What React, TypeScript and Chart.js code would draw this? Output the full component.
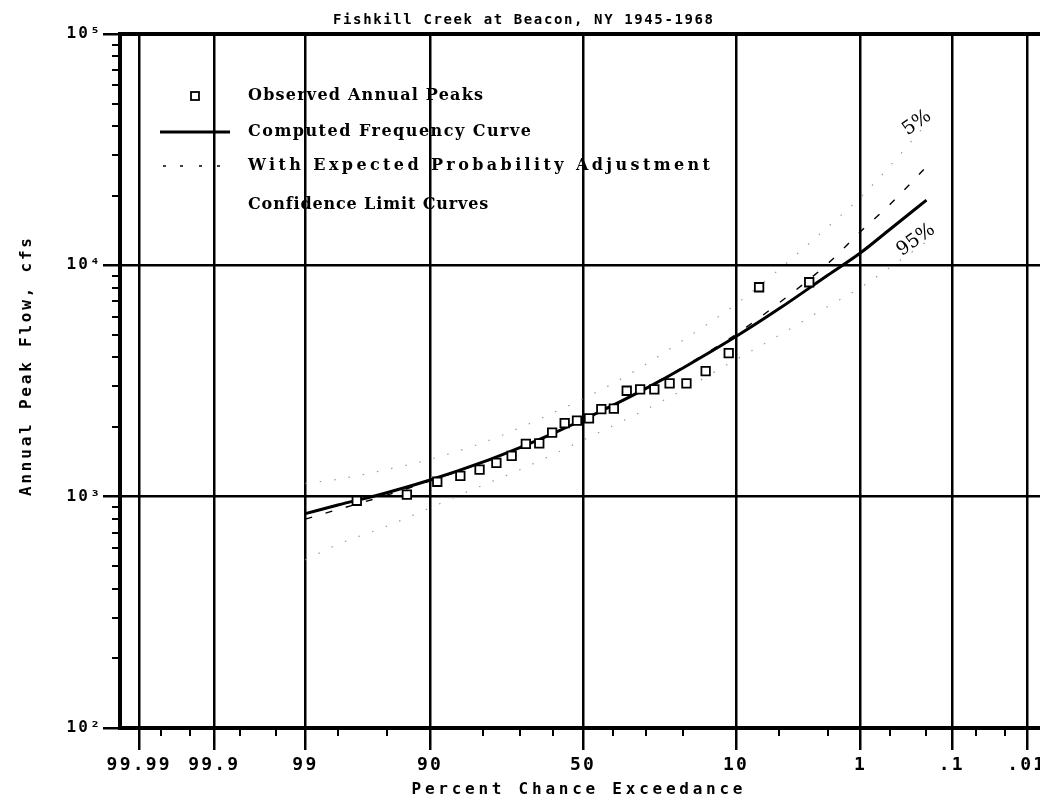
import React, { useEffect, useRef } from 'react';
import { Chart, registerables } from 'chart.js';

Chart.register(...registerables);

const TITLE = 'Fishkill Creek at Beacon, NY 1945-1968';
const X_TITLE = 'Percent Chance Exceedance';
const Y_TITLE = 'Annual Peak Flow, cfs';

const MAJOR_PCT = [99.99, 99.9, 99, 90, 50, 10, 1, 0.1, 0.01];
const MAJOR_PCT_LABELS = ['99.99', '99.9', '99', '90', '50', '10', '1', '.1', '.01'];
const MINOR_PCT = [99.98, 99.95, 99.8, 99.5, 98, 95, 80, 70, 60, 40, 30, 20, 5, 2, 0.5, 0.2, 0.05, 0.02];

const Y_MAJOR = [100, 1000, 10000, 100000];
const Y_MAJOR_LABELS = ['10²', '10³', '10⁴', '10⁵'];
const Y_MINOR = [200, 300, 400, 500, 600, 700, 800, 900, 2000, 3000, 4000, 5000, 6000, 7000, 8000, 9000, 20000, 30000, 40000, 50000, 60000, 70000, 80000, 90000];

// Curves (percent chance exceedance -> cfs)
const CURVE_PCT = [99, 98, 95, 90, 80, 70, 60, 50, 40, 30, 20, 10, 5, 2, 1, 0.5, 0.2];
const COMPUTED_CFS = [845, 920, 1040, 1180, 1410, 1635, 1875, 2150, 2485, 2930, 3610, 4920, 6500, 9080, 11330, 14360, 19140];
const EXPECTED_CFS = [800, 880, 1015, 1170, 1405, 1630, 1875, 2150, 2490, 2945, 3640, 5030, 6890, 10200, 14000, 18400, 26700];
const UPPER_5_CFS = [1140, 1190, 1310, 1450, 1710, 1990, 2300, 2650, 3090, 3730, 4760, 6790, 9610, 14700, 19700, 27000, 41000];
const LOWER_95_CFS = [533, 622, 745, 895, 1120, 1310, 1520, 1755, 2030, 2380, 2900, 3910, 4990, 6650, 8020, 9820, 12650];

// Observed annual peaks (plotting position %, cfs)
const OBS_PCT = [2.9, 7.0, 11.1, 15.2, 19.3, 23.4, 27.5, 31.6, 35.7, 39.8, 43.9, 48.0, 52.0, 56.1, 60.2, 64.3, 68.4, 72.5, 76.6, 80.7, 84.8, 88.9, 93.0, 97.1];
const OBS_CFS = [8450, 8040, 4170, 3490, 3090, 3090, 2910, 2910, 2870, 2400, 2390, 2180, 2130, 2080, 1890, 1700, 1690, 1500, 1400, 1310, 1230, 1160, 1020, 960];

const LEGEND_LABELS = ['Observed Annual Peaks', 'Computed Frequency Curve', 'With Expected Probability Adjustment', 'Confidence Limit Curves'];
const CURVE_LABELS = ['5%', '95%'];

const X_MIN = -3.88;
const X_MAX = 3.88;

function probit(p: number): number {
  const a = [-3.969683028665376e1, 2.209460984245205e2, -2.759285104469687e2, 1.38357751867269e2, -3.066479806614716e1, 2.506628277459239];
  const b = [-5.447609879822406e1, 1.615858368580409e2, -1.556989798598866e2, 6.680131188771972e1, -1.328068155288572e1];
  const c = [-7.784894002430293e-3, -3.223964580411365e-1, -2.400758277161838, -2.549732539343734, 4.374664141464968, 2.938163982698783];
  const d = [7.784695709041462e-3, 3.224671290700398e-1, 2.445134137142996, 3.754408661907416];
  const pl = 0.02425;
  if (p < pl) {
    const q = Math.sqrt(-2 * Math.log(p));
    return (((((c[0] * q + c[1]) * q + c[2]) * q + c[3]) * q + c[4]) * q + c[5]) / ((((d[0] * q + d[1]) * q + d[2]) * q + d[3]) * q + 1);
  }
  if (p > 1 - pl) {
    const q = Math.sqrt(-2 * Math.log(1 - p));
    return -(((((c[0] * q + c[1]) * q + c[2]) * q + c[3]) * q + c[4]) * q + c[5]) / ((((d[0] * q + d[1]) * q + d[2]) * q + d[3]) * q + 1);
  }
  const q = p - 0.5;
  const r = q * q;
  return ((((((a[0] * r + a[1]) * r + a[2]) * r + a[3]) * r + a[4]) * r + a[5]) * q) / (((((b[0] * r + b[1]) * r + b[2]) * r + b[3]) * r + b[4]) * r + 1);
}

const pctToZ = (pct: number) => probit(1 - pct / 100);

const MONO = '"DejaVu Sans Mono", "Liberation Mono", monospace';
const SERIF = '"DejaVu Serif", "Liberation Serif", serif';

function drawFitted(ctx: CanvasRenderingContext2D, text: string, cx: number, cy: number, font: string, target: number) {
  ctx.font = font;
  (ctx as any).letterSpacing = '0px';
  const w = ctx.measureText(text).width;
  const s = text.length > 1 ? (target - w) / (text.length - 1) : 0;
  (ctx as any).letterSpacing = `${s}px`;
  ctx.textAlign = 'left';
  ctx.textBaseline = 'middle';
  ctx.fillText(text, cx - target / 2, cy);
  (ctx as any).letterSpacing = '0px';
}

const decorPlugin = {
  id: 'decor',
  beforeDraw(chart: any) {
    const ctx = chart.ctx as CanvasRenderingContext2D;
    ctx.save();
    ctx.fillStyle = '#fff';
    ctx.fillRect(0, 0, chart.width, chart.height);
    ctx.restore();
    (ctx as any).letterSpacing = '2.2px';
  },
  afterDraw(chart: any) {
    const ctx = chart.ctx as CanvasRenderingContext2D;
    const a = chart.chartArea;
    ctx.save();
    (ctx as any).letterSpacing = '0px';
    // frame
    ctx.strokeStyle = '#000';
    ctx.lineWidth = 4;
    ctx.strokeRect(a.left, a.top, a.right - a.left, a.bottom - a.top);

    ctx.fillStyle = '#000';
    // titles
    drawFitted(ctx, TITLE, 523, 20, `bold 14px ${MONO}`, 380);
    drawFitted(ctx, X_TITLE, 577, 790, `bold 16px ${MONO}`, 331);
    ctx.save();
    ctx.translate(27, 367);
    ctx.rotate(-Math.PI / 2);
    drawFitted(ctx, Y_TITLE, 0, 0, `bold 16px ${MONO}`, 258);
    ctx.restore();

    // legend
    const lx = 248;
    const rows = [96, 132, 166, 205];
    ctx.strokeStyle = '#000';
    ctx.lineWidth = 1.8;
    ctx.strokeRect(191, rows[0] - 4, 8, 8);
    ctx.lineWidth = 3;
    ctx.beginPath();
    ctx.moveTo(160, rows[1]);
    ctx.lineTo(230, rows[1]);
    ctx.stroke();
    ctx.lineWidth = 1.5;
    [163, 180, 199, 217].forEach((x) => {
      ctx.beginPath();
      ctx.moveTo(x, rows[2]);
      ctx.lineTo(x + 3, rows[2]);
      ctx.stroke();
    });
    const legendWidths = [235, 283, 462, 239];
    LEGEND_LABELS.forEach((t, i) => {
      drawFitted(ctx, t, lx + legendWidths[i] / 2, rows[i], `bold 16px ${SERIF}`, legendWidths[i]);
    });

    // curve labels
    ctx.font = `19px ${SERIF}`;
    ctx.textAlign = 'center';
    ctx.textBaseline = 'middle';
    ctx.save();
    ctx.translate(917, 123);
    ctx.rotate(-0.62);
    ctx.fillText(CURVE_LABELS[0], 0, 0);
    ctx.restore();
    ctx.save();
    ctx.translate(916, 240);
    ctx.rotate(-0.62);
    ctx.fillText(CURVE_LABELS[1], 0, 0);
    ctx.restore();

    ctx.restore();
  },
};

export default function App() {
  const canvasRef = useRef<HTMLCanvasElement | null>(null);

  useEffect(() => {
    const canvas = canvasRef.current;
    if (!canvas) return;

    const toPts = (pcts: number[], vals: number[]) => pcts.map((p, i) => ({ x: pctToZ(p), y: vals[i] }));

    const chart = new Chart(canvas, {
      type: 'scatter',
      data: {
        datasets: [
          {
            label: LEGEND_LABELS[0],
            data: toPts(OBS_PCT, OBS_CFS),
            pointStyle: 'rect',
            pointRadius: 6,
            borderWidth: 1.8,
            borderColor: '#000',
            backgroundColor: '#fff',
            showLine: false,
          },
          {
            label: LEGEND_LABELS[1],
            data: toPts(CURVE_PCT, COMPUTED_CFS),
            showLine: true,
            borderColor: '#000',
            borderWidth: 3,
            pointRadius: 0,
            cubicInterpolationMode: 'monotone',
          },
          {
            label: LEGEND_LABELS[2],
            data: toPts(CURVE_PCT, EXPECTED_CFS),
            showLine: true,
            borderColor: '#000',
            borderWidth: 1.4,
            borderDash: [7, 14],
            pointRadius: 0,
            cubicInterpolationMode: 'monotone',
          },
          {
            label: 'Upper 5%',
            data: toPts(CURVE_PCT, UPPER_5_CFS),
            showLine: true,
            borderColor: '#9a9a9a',
            borderWidth: 1.2,
            borderDash: [1.5, 13],
            pointRadius: 0,
            cubicInterpolationMode: 'monotone',
          },
          {
            label: 'Lower 95%',
            data: toPts(CURVE_PCT, LOWER_95_CFS),
            showLine: true,
            borderColor: '#9a9a9a',
            borderWidth: 1.2,
            borderDash: [1.5, 13],
            pointRadius: 0,
            cubicInterpolationMode: 'monotone',
          },
        ] as any,
      },
      options: {
        responsive: false,
        animation: false,
        events: [],
        layout: { padding: { top: 34, right: 14, left: 0, bottom: 0 } },
        plugins: {
          legend: { display: false },
          tooltip: { enabled: false },
          title: { display: false },
        },
        scales: {
          x: {
            type: 'linear',
            position: 'bottom',
            min: X_MIN,
            max: X_MAX,
            weight: 1,
            afterBuildTicks: (s: any) => {
              s.ticks = MAJOR_PCT.map((p) => ({ value: pctToZ(p) }));
            },
            afterFit: (s: any) => {
              s.height = 71;
            },
            ticks: {
              autoSkip: false,
              maxRotation: 0,
              minRotation: 0,
              padding: 5,
              color: '#000',
              font: { family: MONO, size: 18, weight: 'bold' },
              callback: (_v: any, i: number) => MAJOR_PCT_LABELS[i],
            },
            grid: { color: '#000', lineWidth: 2.5, tickLength: 22, drawOnChartArea: true, drawTicks: true },
            border: { display: false },
          },
          xMinor: {
            type: 'linear',
            position: 'bottom',
            min: X_MIN,
            max: X_MAX,
            weight: 0,
            afterBuildTicks: (s: any) => {
              s.ticks = MINOR_PCT.map((p) => ({ value: pctToZ(p) }));
            },
            afterFit: (s: any) => {
              s.height = 0;
            },
            ticks: { display: false },
            grid: { color: '#000', lineWidth: 2, tickLength: 8, drawOnChartArea: false, drawTicks: true },
            border: { display: false },
          },
          y: {
            type: 'logarithmic',
            position: 'left',
            min: 100,
            max: 100000,
            weight: 1,
            afterBuildTicks: (s: any) => {
              s.ticks = Y_MAJOR.map((v) => ({ value: v }));
            },
            afterFit: (s: any) => {
              s.width = 120;
            },
            ticks: {
              autoSkip: false,
              padding: 1,
              color: '#000',
              font: { family: MONO, size: 16, weight: 'bold' },
              callback: (_v: any, i: number) => Y_MAJOR_LABELS[i],
            },
            grid: { color: '#000', lineWidth: 2.5, tickLength: 17, drawOnChartArea: true, drawTicks: true },
            border: { display: false },
          },
          yMinor: {
            type: 'logarithmic',
            position: 'left',
            min: 100,
            max: 100000,
            weight: 0,
            afterBuildTicks: (s: any) => {
              s.ticks = Y_MINOR.map((v) => ({ value: v }));
            },
            afterFit: (s: any) => {
              s.width = 0;
            },
            ticks: { display: false },
            grid: { color: '#000', lineWidth: 2, tickLength: 8, drawOnChartArea: false, drawTicks: true },
            border: { display: false },
          },
        },
      } as any,
      plugins: [decorPlugin],
    });

    return () => chart.destroy();
  }, []);

  return (
    <div style={{ position: 'fixed', left: 0, top: 0, width: 1040, height: 799, overflow: 'hidden', background: '#fff' }}>
      <canvas ref={canvasRef} width={1060} height={799} style={{ display: 'block' }} />
    </div>
  );
}
